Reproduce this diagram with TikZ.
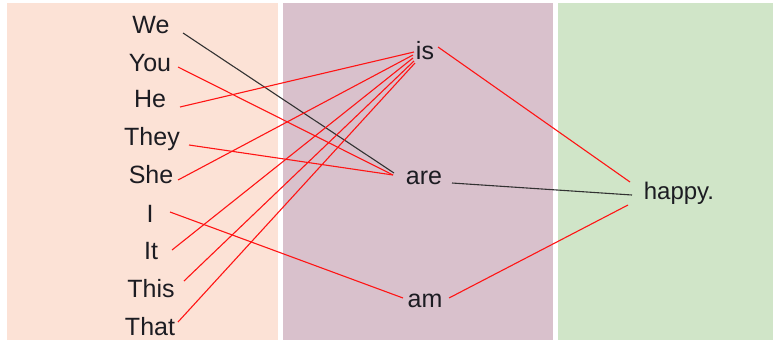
\documentclass[tikz,border=0pt]{standalone}
\usepackage{fontspec}
\setmainfont{Liberation Sans}
\definecolor{peach}{RGB}{252,226,214}
\definecolor{mauve}{RGB}{217,193,204}
\definecolor{mint}{RGB}{208,229,200}
\definecolor{ink}{RGB}{28,28,34}
\definecolor{redline}{RGB}{255,20,20}
\definecolor{darkline}{RGB}{50,50,50}
\begin{document}
\begin{tikzpicture}[x=1pt,y=-1pt,
  word/.style={anchor=base,inner sep=0pt,text=ink,font=\fontsize{25}{25}\selectfont},
  hap/.style={anchor=base,inner sep=0pt,text=ink,font=\fontsize{24}{24}\selectfont},
  rl/.style={draw=redline,line width=1.1pt},
  bl/.style={draw=darkline,line width=1.1pt}]
\useasboundingbox (0,0) rectangle (773,340);
\fill[white] (0,0) rectangle (773,340);
\fill[peach] (7,3) rectangle (278,340);
\fill[mauve] (283,3) rectangle (553,340);
\fill[mint] (558,3) rectangle (773,340);

\node[word] (we) at (151,33) {We};
\node[word] (you) at (150,71) {You};
\node[word] (he) at (150,107) {He};
\node[word] (they) at (152,145) {They};
\node[word] (she) at (151,183) {She};
\node[word] (i) at (150,222) {I};
\node[word] (it) at (151,259) {It};
\node[word] (this) at (151,297) {This};
\node[word] (that) at (150,335) {That};

\node[word] (is) at (425,59) {is};
\node[word] (are) at (424,184) {are};
\node[word] (am) at (425,307) {am};
\node[hap] (happy) at (679,199) {happy.};

% left to middle
\draw[bl] ([shift={(32,0)}]we.base) -- ([shift={(-30,-11)}]are.base);
\draw[rl] ([shift={(28,-4)}]you.base) -- ([shift={(-31,-9)}]are.base);
\draw[rl] ([shift={(30,0)}]he.base) -- ([shift={(-11,-7)}]is.base);
\draw[rl] ([shift={(37,0)}]they.base) -- ([shift={(-31,-9)}]are.base);
\draw[rl] ([shift={(27,-3)}]she.base) -- ([shift={(-12,-4)}]is.base);
\draw[rl] ([shift={(20,-10)}]i.base) -- ([shift={(-22,-9)}]am.base);
\draw[rl] ([shift={(21,-9)}]it.base) -- ([shift={(-12,-1)}]is.base);
\draw[rl] ([shift={(33,-16)}]this.base) -- ([shift={(-11,2)}]is.base);
\draw[rl] ([shift={(28,-13)}]that.base) -- ([shift={(-10,4)}]is.base);

% middle to right
\draw[rl] ([shift={(13,-12)}]is.base) -- ([shift={(-49,-17)}]happy.base);
\draw[bl] ([shift={(28,-1)}]are.base) -- ([shift={(-47,-4)}]happy.base);
\draw[rl] ([shift={(24,-9)}]am.base) -- ([shift={(-51,6)}]happy.base);
\end{tikzpicture}
\end{document}
